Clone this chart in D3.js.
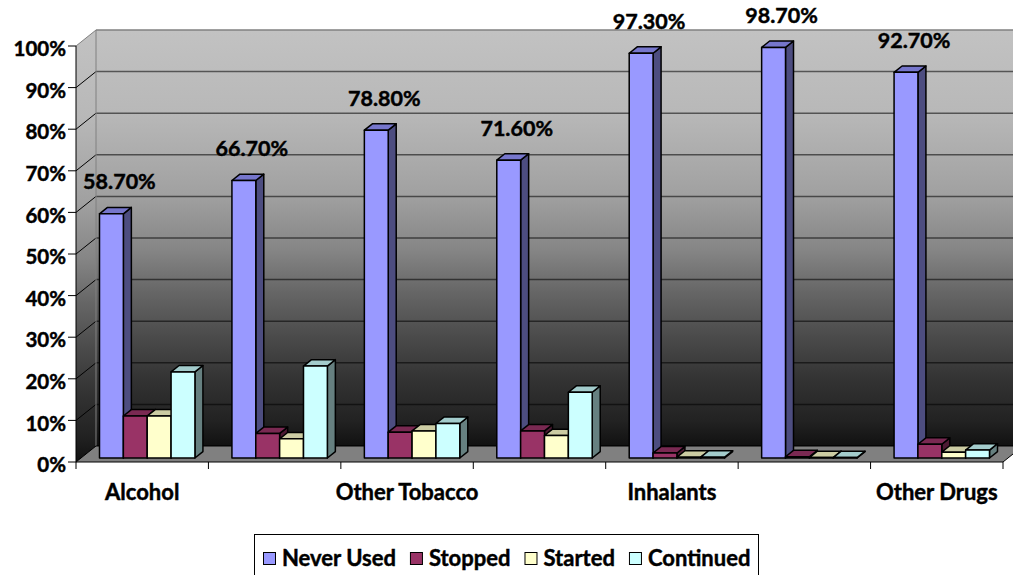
<!DOCTYPE html>
<html>
<head>
<meta charset="utf-8">
<script src="https://cdn.jsdelivr.net/npm/d3@7"></script>
<style>
  html, body { margin: 0; padding: 0; background: #fff; }
  svg { display: block; }
  text { font-family: Lato, "Open Sans", "DejaVu Sans", sans-serif; font-weight: 700; fill: #000;
         stroke: #000; stroke-width: 0.45px; }
</style>
</head>
<body>
<svg id="chart" width="1013" height="575"></svg>
<script>
// Substance use by category: share of respondents in each usage group (%)
const categories = ["Alcohol", "", "Other Tobacco", "", "Inhalants", "", "Other Drugs"];
const seriesNames = ["Never Used", "Stopped", "Started", "Continued"];
const neverUsed = [58.7, 66.7, 78.8, 71.6, 97.3, 98.7, 92.7];
const stopped   = [10.1, 5.9, 6.2, 6.5, 1.2, 0.3, 3.3];
const started   = [10.1, 4.6, 6.5, 5.4, 0.2, 0.1, 1.4];
const continued = [20.7, 22.1, 8.3, 15.8, 0.2, 0.1, 1.9];
const yTicks = [0, 10, 20, 30, 40, 50, 60, 70, 80, 90, 100];

const seriesValues = [neverUsed, stopped, started, continued];
// front, top and side face colours for each series
const faceColors = [
  { front: "#9999ff", top: "#7676cc", side: "#4d4d80" },
  { front: "#993366", top: "#7a2952", side: "#4d1a33" },
  { front: "#ffffcc", top: "#cccca3", side: "#808066" },
  { front: "#ccffff", top: "#a3cccc", side: "#668080" }
];

const svg = d3.select("#chart");

// plot geometry: front plane and depth offset of the 3-D box
const plotLeft = 76, plotRight = 1003, plotBottom = 462, plotTop = 46;
const DX = 20, DY = -16;           // full depth shift toward the back wall
const tFront = 0.25, tBack = 0.65; // bar depth position as a fraction of the box

const x = d3.scaleBand().domain(d3.range(categories.length)).range([plotLeft, plotRight]);
const y = d3.scaleLinear().domain([0, 100]).range([plotBottom, plotTop]);
const groupGap = 18.5;
const xs = d3.scaleBand().domain(d3.range(seriesNames.length))
  .range([groupGap, x.bandwidth() - groupGap]);

const P = (px, py, t) => [px + DX * t, py + DY * t];
const poly = pts => "M" + pts.map(p => p.join(",")).join("L") + "Z";

// wall gradient
const defs = svg.append("defs");
const grad = defs.append("linearGradient").attr("id", "wall")
  .attr("x1", 0).attr("y1", 0).attr("x2", 0).attr("y2", 1);
[[0, "#c2c2c2"], [0.2, "#b8b8b8"], [0.4, "#a0a0a0"], [0.53, "#858585"],
 [0.63, "#666666"], [0.74, "#4a4a4a"], [0.84, "#333333"], [0.94, "#222222"], [1, "#111111"]]
  .forEach(([o, c]) => grad.append("stop").attr("offset", o).attr("stop-color", c));

// back wall
svg.append("path")
  .attr("d", poly([P(plotLeft, plotTop, 1), P(plotRight, plotTop, 1), P(plotRight, plotBottom, 1), P(plotLeft, plotBottom, 1)]))
  .attr("fill", "url(#wall)");
// side wall
svg.append("path")
  .attr("d", poly([P(plotLeft, plotTop, 0), P(plotLeft, plotTop, 1), P(plotLeft, plotBottom, 1), P(plotLeft, plotBottom, 0)]))
  .attr("fill", "url(#wall)");

// gridlines on the back wall and the side wall
yTicks.forEach(v => {
  const a = P(plotLeft, y(v), 1), b = P(plotRight, y(v), 1), c = P(plotLeft, y(v), 0);
  svg.append("line").attr("x1", a[0]).attr("y1", a[1]).attr("x2", b[0]).attr("y2", b[1])
    .attr("stroke", v === 100 ? "#808080" : "#000").attr("stroke-opacity", v === 100 ? 1 : 0.55)
    .attr("stroke-width", 1.5);
  svg.append("line").attr("x1", c[0]).attr("y1", c[1]).attr("x2", a[0]).attr("y2", a[1])
    .attr("stroke", v === 100 ? "#808080" : "#000").attr("stroke-width", 1);
});
// back wall left edge
svg.append("line")
  .attr("x1", P(plotLeft, plotTop, 1)[0]).attr("y1", P(plotLeft, plotTop, 1)[1])
  .attr("x2", P(plotLeft, plotBottom, 1)[0]).attr("y2", P(plotLeft, plotBottom, 1)[1])
  .attr("stroke", "#808080").attr("stroke-width", 1);

// floor
svg.append("path")
  .attr("d", poly([P(plotLeft, plotBottom, 0), P(plotRight, plotBottom, 0), P(plotRight, plotBottom, 1), P(plotLeft, plotBottom, 1)]))
  .attr("fill", "#808080").attr("stroke", "#000").attr("stroke-width", 1);

// bars
x.domain().forEach(i => {
  seriesValues.forEach((vals, s) => {
    const v = vals[i];
    const x0 = x(i) + xs(s), x1 = x0 + xs.bandwidth();
    const y0 = y(0), y1 = y(v);
    const c = faceColors[s];
    const g = svg.append("g").attr("stroke", "#000").attr("stroke-width", 1.5)
      .attr("stroke-linejoin", "round");
    // right side face
    g.append("path").attr("fill", c.side)
      .attr("d", poly([P(x1, y1, tFront), P(x1, y1, tBack), P(x1, y0, tBack), P(x1, y0, tFront)]));
    // top face
    g.append("path").attr("fill", c.top)
      .attr("d", poly([P(x0, y1, tFront), P(x0, y1, tBack), P(x1, y1, tBack), P(x1, y1, tFront)]));
    // front face
    g.append("path").attr("fill", c.front)
      .attr("d", poly([P(x0, y1, tFront), P(x1, y1, tFront), P(x1, y0, tFront), P(x0, y0, tFront)]));
  });
});

// value labels for Never Used
const fmt = d3.format(".2f");
neverUsed.forEach((v, i) => {
  const cx = x(i) + xs(0) + xs.bandwidth() / 2 + DX * tFront + 8;
  const ty = y(v) + DY * tBack - 18;
  svg.append("text").attr("x", cx).attr("y", ty).attr("text-anchor", "middle")
    .style("font-size", "21.5px").text(fmt(v) + "%");
});

// value axis
svg.append("line").attr("x1", plotLeft).attr("y1", plotTop).attr("x2", plotLeft).attr("y2", plotBottom)
  .attr("stroke", "#000").attr("stroke-width", 1);
yTicks.forEach(v => {
  svg.append("line").attr("x1", plotLeft - 8).attr("y1", y(v)).attr("x2", plotLeft).attr("y2", y(v))
    .attr("stroke", "#000").attr("stroke-width", 1);
  svg.append("text").attr("x", plotLeft - 10).attr("y", y(v) + 3).attr("dy", "0.35em")
    .attr("text-anchor", "end").style("font-size", "20.5px").text(v + "%");
});

// category axis
d3.range(categories.length + 1).forEach(k => {
  const tx = k < categories.length ? x(k) : plotRight;
  svg.append("line").attr("x1", tx).attr("y1", plotBottom).attr("x2", tx).attr("y2", plotBottom + 7)
    .attr("stroke", "#000").attr("stroke-width", 1);
});
categories.forEach((name, i) => {
  if (!name) return;
  svg.append("text").attr("x", x(i) + x.bandwidth() / 2).attr("y", 500)
    .attr("text-anchor", "middle").style("font-size", "22px").text(name);
});

// legend
const legend = svg.append("g");
legend.append("rect").attr("x", 254.5).attr("y", 534.5).attr("width", 504).attr("height", 60)
  .attr("fill", "#fff").attr("stroke", "#000").attr("stroke-width", 1);
let lx = 263;
seriesNames.forEach((name, s) => {
  legend.append("rect").attr("x", lx + 0.5).attr("y", 552.5).attr("width", 12).attr("height", 12)
    .attr("fill", faceColors[s].front).attr("stroke", "#000").attr("stroke-width", 1);
  const t = legend.append("text").attr("x", lx + 19).attr("y", 566)
    .style("font-size", "22px").text(name);
  lx = lx + 19 + t.node().getComputedTextLength() + 14;
});
</script>
</body>
</html>
